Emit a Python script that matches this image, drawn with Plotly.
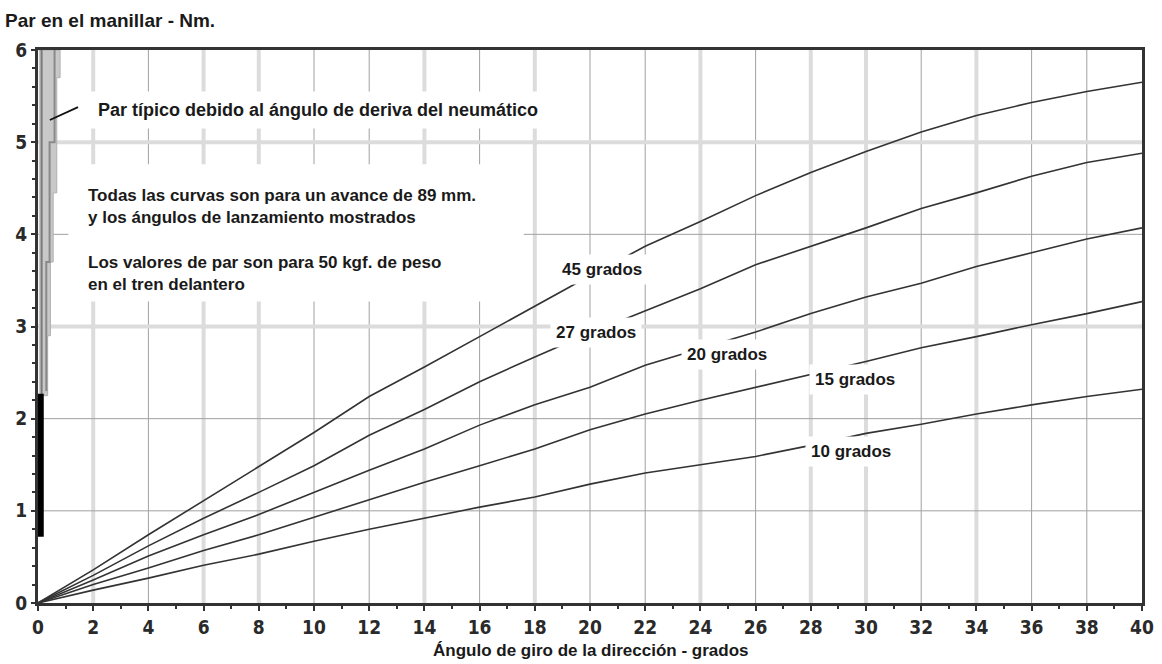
import plotly.graph_objects as go

# Steering angle (degrees) at which each curve was sampled
angle = [0, 2, 4, 6, 8, 10, 12, 14, 16, 18, 20, 22, 24, 26, 28, 30, 32, 34, 36, 38, 40]

# Handlebar torque (Nm) for each rake angle
torque_45 = [0, 0.36, 0.74, 1.11, 1.48, 1.85, 2.24, 2.56, 2.89, 3.22, 3.55, 3.87, 4.14, 4.42, 4.67, 4.90, 5.11, 5.29, 5.43, 5.55, 5.65]
torque_27 = [0, 0.30, 0.62, 0.92, 1.20, 1.49, 1.82, 2.10, 2.40, 2.67, 2.93, 3.17, 3.41, 3.67, 3.87, 4.07, 4.28, 4.45, 4.63, 4.78, 4.88]
torque_20 = [0, 0.25, 0.51, 0.74, 0.96, 1.20, 1.44, 1.67, 1.93, 2.15, 2.34, 2.58, 2.76, 2.94, 3.14, 3.32, 3.47, 3.65, 3.80, 3.95, 4.07]
torque_15 = [0, 0.20, 0.38, 0.57, 0.74, 0.93, 1.12, 1.31, 1.49, 1.67, 1.88, 2.05, 2.20, 2.34, 2.48, 2.62, 2.77, 2.89, 3.02, 3.14, 3.27]
torque_10 = [0, 0.14, 0.27, 0.41, 0.53, 0.67, 0.80, 0.92, 1.04, 1.15, 1.29, 1.41, 1.50, 1.59, 1.71, 1.84, 1.94, 2.05, 2.15, 2.24, 2.32]

series = [
    ("45 grados", torque_45, 20.45, 3.62),
    ("27 grados", torque_27, 20.2, 2.94),
    ("20 grados", torque_20, 24.95, 2.70),
    ("15 grados", torque_15, 29.6, 2.42),
    ("10 grados", torque_10, 29.45, 1.64),
]

# Typical tyre slip-angle torque band near zero steering angle
band_y = [2.25, 2.9, 2.9, 3.7, 3.7, 4.45, 4.45, 5.7, 5.7, 6.0]
band_right = [0.35, 0.35, 0.45, 0.45, 0.55, 0.55, 0.68, 0.68, 0.8, 0.8]
band_left = 0.03
band_inner_x = [0.3, 0.3, 0.42, 0.42, 0.6, 0.6]
band_inner_y = [2.3, 3.7, 3.7, 5.0, 5.0, 6.0]
band_core_y = [0.72, 2.27]
band_core_x = 0.1
leader_x = [0.43, 1.45]
leader_y = [5.24, 5.38]

x_ticks = list(range(0, 41, 2))
y_ticks = [0, 1, 2, 3, 4, 5, 6]
x_grid_light = {2, 6, 8, 14, 18, 24, 28, 30, 34}
y_grid_light = {3, 5}

TEXT_FONT = "Liberation Sans, Arial, sans-serif"
TICK_FONT = "Liberation Sans Narrow, DejaVu Sans Condensed, Liberation Sans, sans-serif"
INK = "#1a1a1a"

fig = go.Figure()

# Band polygon
poly_x = [band_left] + band_right + [band_left]
poly_y = [band_y[0]] + band_y + [band_y[-1]]
fig.add_trace(go.Scatter(x=poly_x, y=poly_y, mode="lines", fill="toself",
                         fillcolor="#c8c8c8", line=dict(color="#b0b0b0", width=1),
                         hoverinfo="skip", showlegend=False))
fig.add_trace(go.Scatter(x=[0.13, 0.13], y=[band_y[0], band_y[-1]], mode="lines",
                         line=dict(color="#7a7a7a", width=2), hoverinfo="skip", showlegend=False))
fig.add_trace(go.Scatter(x=band_inner_x, y=band_inner_y, mode="lines",
                         line=dict(color="#8a8a8a", width=2), hoverinfo="skip", showlegend=False))
fig.add_trace(go.Scatter(x=[band_core_x, band_core_x], y=band_core_y, mode="lines",
                         line=dict(color="#000000", width=6), hoverinfo="skip", showlegend=False))
fig.add_trace(go.Scatter(x=leader_x, y=leader_y, mode="lines",
                         line=dict(color="#111111", width=1.8), hoverinfo="skip", showlegend=False))

# Torque curves
for name, vals, lx, ly in series:
    fig.add_trace(go.Scatter(x=angle, y=vals, mode="lines", name=name,
                             line=dict(color="#333333", width=1.6), showlegend=False))
    fig.add_annotation(x=lx, y=ly, text=name, showarrow=False,
                       font=dict(family=TEXT_FONT, size=17, color=INK, weight="bold"),
                       bgcolor="white", borderpad=5)

shapes = []
# Grid lines (drawn beneath everything)
for v in x_ticks[1:-1]:
    light = v in x_grid_light
    shapes.append(dict(type="line", xref="x", yref="y", x0=v, x1=v, y0=0, y1=6, layer="below",
                       line=dict(color="#dcdcdc" if light else "#a0a0a0", width=4 if light else 1)))
for v in y_ticks[1:-1]:
    light = v in y_grid_light
    shapes.append(dict(type="line", xref="x", yref="y", x0=0, x1=40, y0=v, y1=v, layer="below",
                       line=dict(color="#dcdcdc" if light else "#a0a0a0", width=4 if light else 1)))
# Blank panel behind the notes
shapes.append(dict(type="rect", xref="x", yref="y", x0=1.1, x1=17.6, y0=3.27, y1=4.76,
                   layer="between", fillcolor="white", line=dict(width=0)))

fig.update_layout(shapes=shapes)

fig.add_annotation(x=1.85, y=5.35, xanchor="left", showarrow=False,
                   text="Par típico debido al ángulo de deriva del neumático",
                   font=dict(family=TEXT_FONT, size=18, color=INK, weight="bold"),
                   bgcolor="white", borderpad=8)
fig.add_annotation(x=1.75, y=4.3, xanchor="left", align="left", showarrow=False,
                   text="Todas las curvas son para un avance de 89 mm.<br>y los ángulos de lanzamiento mostrados",
                   font=dict(family=TEXT_FONT, size=17, color=INK, weight="bold"))
fig.add_annotation(x=1.75, y=3.58, xanchor="left", align="left", showarrow=False,
                   text="Los valores de par son para 50 kgf. de peso<br>en el tren delantero",
                   font=dict(family=TEXT_FONT, size=17, color=INK, weight="bold"))
fig.add_annotation(xref="paper", yref="paper", x=-0.032, y=1.054, xanchor="left", yanchor="middle",
                   showarrow=False, text="Par en el manillar - Nm.",
                   font=dict(family=TEXT_FONT, size=19, color=INK, weight="bold"))
# X-axis caption
fig.add_annotation(xref="paper", yref="paper", x=0.5, y=-0.085, xanchor="center", yanchor="middle",
                   showarrow=False, text="Ángulo de giro de la dirección - grados",
                   font=dict(family=TEXT_FONT, size=17, color=INK, weight="bold"))

fig.update_layout(
    width=1162, height=664,
    margin=dict(l=38, r=20, t=50, b=61),
    paper_bgcolor="white", plot_bgcolor="white",
    xaxis=dict(range=[0, 40], tickvals=x_ticks, showgrid=False, zeroline=False, automargin=False,
               showline=True, linecolor="#333333", linewidth=3, mirror=True,
               ticks="outside", ticklen=5, tickwidth=2, tickcolor="#333333",
               minor=dict(dtick=1, ticks="outside", ticklen=3, tickcolor="#333333", showgrid=False),
               tickfont=dict(family=TICK_FONT, size=19, color="#2a2a2a", weight="bold")),
    yaxis=dict(range=[0, 6], tickvals=y_ticks, showgrid=False, zeroline=False, automargin=False,
               showline=True, linecolor="#333333", linewidth=3, mirror=True,
               ticks="outside", ticklen=4, tickwidth=2, tickcolor="#333333",
               minor=dict(dtick=0.2, ticks="outside", ticklen=3, tickcolor="#333333", showgrid=False),
               tickfont=dict(family=TICK_FONT, size=19, color="#2a2a2a", weight="bold")),
)

fig.write_html("out.html")
